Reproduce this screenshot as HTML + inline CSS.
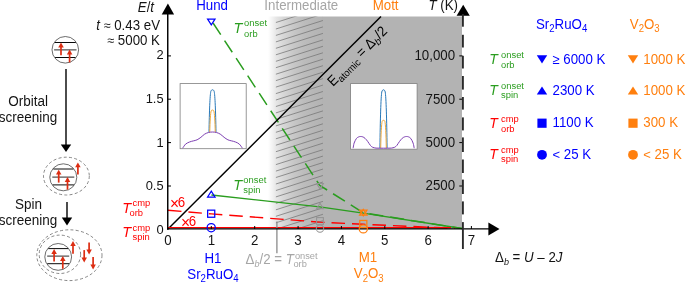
<!DOCTYPE html>
<html><head><meta charset="utf-8"><title>Figure</title>
<style>html,body{margin:0;padding:0;background:#fff;}svg{display:block;}text{font-family:"Liberation Sans",Arial,Helvetica,sans-serif;}</style>
</head><body>
<svg width="685" height="283" viewBox="0 0 685 283">
<defs><linearGradient id="gg" x1="0" y1="0" x2="1" y2="0"><stop offset="0.000" stop-color="#b3b3b3" stop-opacity="0"/><stop offset="0.052" stop-color="#b3b3b3" stop-opacity="0"/><stop offset="0.121" stop-color="#b3b3b3" stop-opacity="0.15"/><stop offset="0.190" stop-color="#b3b3b3" stop-opacity="0.32"/><stop offset="0.310" stop-color="#b3b3b3" stop-opacity="0.52"/><stop offset="0.500" stop-color="#b3b3b3" stop-opacity="0.74"/><stop offset="0.672" stop-color="#b3b3b3" stop-opacity="0.88"/><stop offset="0.862" stop-color="#b3b3b3" stop-opacity="0.96"/><stop offset="1.000" stop-color="#b3b3b3" stop-opacity="1"/></linearGradient>
<clipPath id="plotclip"><rect x="168" y="16.5" width="294.5" height="212.5"/></clipPath>
</defs>
<rect width="685" height="283" fill="#fff"/>
<rect x="265" y="16.5" width="58" height="212.5" fill="url(#gg)"/>
<rect x="322.9" y="16.5" width="139.1" height="212.5" fill="#b3b3b3"/>
<g stroke="#747474" stroke-width="0.75" clip-path="url(#plotclip)">
<line x1="275.9" y1="22.5" x2="322.9" y2="7.6"/>
<line x1="275.9" y1="29.0" x2="322.9" y2="14.0"/>
<line x1="275.9" y1="35.4" x2="322.9" y2="20.5"/>
<line x1="275.9" y1="41.9" x2="322.9" y2="26.9"/>
<line x1="275.9" y1="48.3" x2="322.9" y2="33.4"/>
<line x1="275.9" y1="54.8" x2="322.9" y2="39.9"/>
<line x1="275.9" y1="61.3" x2="322.9" y2="46.3"/>
<line x1="275.9" y1="67.7" x2="322.9" y2="52.8"/>
<line x1="275.9" y1="74.2" x2="322.9" y2="59.2"/>
<line x1="275.9" y1="80.6" x2="322.9" y2="65.7"/>
<line x1="275.9" y1="87.1" x2="322.9" y2="72.2"/>
<line x1="275.9" y1="93.6" x2="322.9" y2="78.6"/>
<line x1="275.9" y1="100.0" x2="322.9" y2="85.1"/>
<line x1="275.9" y1="106.5" x2="322.9" y2="91.5"/>
<line x1="275.9" y1="112.9" x2="322.9" y2="98.0"/>
<line x1="275.9" y1="119.4" x2="322.9" y2="104.5"/>
<line x1="275.9" y1="125.9" x2="322.9" y2="110.9"/>
<line x1="275.9" y1="132.3" x2="322.9" y2="117.4"/>
<line x1="275.9" y1="138.8" x2="322.9" y2="123.8"/>
<line x1="275.9" y1="145.2" x2="322.9" y2="130.3"/>
<line x1="275.9" y1="151.7" x2="322.9" y2="136.8"/>
<line x1="275.9" y1="158.2" x2="322.9" y2="143.2"/>
<line x1="275.9" y1="164.6" x2="322.9" y2="149.7"/>
<line x1="275.9" y1="171.1" x2="322.9" y2="156.1"/>
<line x1="275.9" y1="177.5" x2="322.9" y2="162.6"/>
<line x1="275.9" y1="184.0" x2="322.9" y2="169.1"/>
<line x1="275.9" y1="190.5" x2="322.9" y2="175.5"/>
<line x1="275.9" y1="196.9" x2="322.9" y2="182.0"/>
<line x1="275.9" y1="203.4" x2="322.9" y2="188.4"/>
<line x1="275.9" y1="209.8" x2="322.9" y2="194.9"/>
<line x1="275.9" y1="216.3" x2="322.9" y2="201.4"/>
<line x1="275.9" y1="222.8" x2="322.9" y2="207.8"/>
<line x1="275.9" y1="229.2" x2="322.9" y2="214.3"/>
<line x1="275.9" y1="235.7" x2="322.9" y2="220.7"/>
<line x1="275.9" y1="242.1" x2="322.9" y2="227.2"/>
</g>
<path d="M211.4,20.5 L319.7,185.3 L363.2,212.8 L462,228.5" fill="none" stroke="#2a9d1f" stroke-width="1.5" stroke-dasharray="14 7" stroke-dashoffset="-3" stroke-linejoin="round"/>
<path d="M211.4,195 L319.7,206.8 L363.2,213.1 L462,228.5" fill="none" stroke="#2a9d1f" stroke-width="1.3" stroke-linejoin="round"/>
<path d="M168,210.2 L211.4,213.9 L319.7,222.1 L363.2,224.3 L455,228.3" fill="none" stroke="#ff0000" stroke-width="1.4" stroke-dasharray="13.5 7" stroke-linejoin="round"/>
<line x1="168" y1="229" x2="381" y2="16.5" stroke="#000000" stroke-width="1.5"/>
<line x1="168" y1="227.65" x2="451" y2="227.65" stroke="#ff0000" stroke-width="1.15"/>
<line x1="276.9" y1="221.5" x2="276.9" y2="253.2" stroke="#8a8a8a" stroke-width="1.3"/>
<g stroke="#000000" stroke-width="1.45" fill="none">
<line x1="167.75" y1="13" x2="167.75" y2="229.65"/>
<line x1="167" y1="228.95" x2="490" y2="228.95" stroke-width="1.25"/>
<line x1="168" y1="186.0" x2="171" y2="186.0" stroke-width="1"/>
<line x1="168" y1="142.6" x2="171" y2="142.6" stroke-width="1"/>
<line x1="168" y1="99.2" x2="171" y2="99.2" stroke-width="1"/>
<line x1="168" y1="55.9" x2="171" y2="55.9" stroke-width="1"/>
<line x1="211.3" y1="229" x2="211.3" y2="226" stroke-width="1"/>
<line x1="254.7" y1="229" x2="254.7" y2="226" stroke-width="1"/>
<line x1="298.1" y1="229" x2="298.1" y2="226" stroke-width="1"/>
<line x1="341.4" y1="229" x2="341.4" y2="226" stroke-width="1"/>
<line x1="384.8" y1="229" x2="384.8" y2="226" stroke-width="1"/>
<line x1="428.1" y1="229" x2="428.1" y2="226" stroke-width="1"/>
<line x1="471.4" y1="229" x2="471.4" y2="226" stroke-width="1"/>
<line x1="459.3" y1="186.0" x2="462.5" y2="186.0" stroke-width="1"/>
<line x1="459.3" y1="142.6" x2="462.5" y2="142.6" stroke-width="1"/>
<line x1="459.3" y1="99.2" x2="462.5" y2="99.2" stroke-width="1"/>
<line x1="459.3" y1="55.9" x2="462.5" y2="55.9" stroke-width="1"/>
</g>
<path d="M167.9,3.6 L174.1,14.6 L161.7,14.6 Z" fill="#000000"/>
<path d="M499.5,229 L488.4,222.6 L488.4,235.4 Z" fill="#000000"/>
<path d="M463.2,4.7 L469.8,15.8 L456.6,15.8 Z" fill="#000000"/>
<g stroke="#2a2a2a" stroke-width="1.9">
<line x1="462.9" y1="14" x2="462.9" y2="26.7"/>
<line x1="462.9" y1="34.8" x2="462.9" y2="47.5"/>
<line x1="462.9" y1="55.8" x2="462.9" y2="68.5"/>
<line x1="462.9" y1="76" x2="462.9" y2="89.6"/>
<line x1="462.9" y1="97" x2="462.9" y2="109.6"/>
<line x1="462.9" y1="117.4" x2="462.9" y2="130.4"/>
<line x1="462.9" y1="137.4" x2="462.9" y2="152"/>
<line x1="462.9" y1="159.5" x2="462.9" y2="173"/>
<line x1="462.9" y1="179.6" x2="462.9" y2="194"/>
<line x1="462.9" y1="201.4" x2="462.9" y2="214.4"/>
<line x1="462.9" y1="222.1" x2="462.9" y2="249"/>
</g>
<rect x="180.1" y="83.6" width="66.1" height="65.1" fill="#fff" stroke="#7f7f7f" stroke-width="0.8"/>
<g fill="none" stroke-width="1" stroke-linejoin="round">
<path d="M209.00,132.2 C209.35,110.9 209.98,95.2 210.82,91.4 C211.45,89.2 213.55,89.2 214.18,91.4 C215.02,95.2 215.65,110.9 216.00,132.2" stroke="#2878b8"/>
<path d="M209.75,132.2 C210.03,121.1 210.52,112.9 211.18,110.9 C211.68,109.7 213.32,109.7 213.82,110.9 C214.48,112.9 214.97,121.1 215.25,132.2" stroke="#f0a93a"/>
<path d="M182.6,148.2 C183.1,147.5 184.5,145.2 185.6,144.1 C186.8,143.1 188.2,142.5 189.5,142.0 C190.7,141.4 192.0,141.3 193.3,140.9 C194.5,140.6 195.8,140.4 197.1,139.8 C198.4,139.2 199.6,138.2 200.9,137.3 C202.2,136.3 203.4,134.9 204.7,134.1 C206.0,133.3 207.2,132.9 208.5,132.5 C209.8,132.2 211.2,132.0 212.5,132.0 C213.8,132.0 215.1,132.2 216.4,132.5 C217.7,132.9 219.0,133.3 220.2,134.1 C221.5,134.9 222.8,136.3 224.1,137.3 C225.3,138.2 226.6,139.2 227.9,139.8 C229.1,140.4 230.4,140.6 231.7,140.9 C233.0,141.3 234.2,141.4 235.5,142.0 C236.8,142.5 238.2,143.1 239.3,144.1 C240.5,145.2 241.9,147.5 242.4,148.2" stroke="#7d3fb2" stroke-width="1"/>
</g>
<rect x="350.6" y="83.6" width="66.5" height="65.6" fill="#fff" stroke="#7f7f7f" stroke-width="0.8"/>
<g fill="none" stroke-width="1" stroke-linejoin="round">
<path d="M379.90,148.2 C380.26,118.9 380.91,97.3 381.77,92.0 C382.42,89.0 384.58,89.0 385.23,92.0 C386.09,97.3 386.74,118.9 387.10,148.2" stroke="#2878b8"/>
<path d="M380.70,148.2 C380.98,134.2 381.48,123.8 382.16,121.3 C382.66,119.9 384.34,119.9 384.84,121.3 C385.52,123.8 386.02,134.2 386.30,148.2" stroke="#f0a93a"/>
<path d="M353.1,148.2 C353.3,147.3 353.6,144.7 354.1,143.1 C354.7,141.5 355.6,139.6 356.4,138.5 C357.2,137.5 358.0,137.2 358.7,136.9 C359.4,136.5 360.0,136.5 360.7,136.5 C361.4,136.5 362.0,136.6 362.8,136.9 C363.5,137.2 364.2,137.5 365.0,138.3 C365.9,139.1 367.0,140.4 367.8,141.6 C368.7,142.8 369.6,144.4 370.4,145.4 C371.2,146.3 371.7,146.9 372.7,147.3 C373.6,147.7 374.8,147.9 376.0,148.1 C377.2,148.2 378.5,148.2 379.8,148.2 C381.1,148.2 382.4,148.2 383.6,148.2 C384.9,148.2 386.2,148.2 387.4,148.2 C388.7,148.2 390.1,148.2 391.3,148.1 C392.4,147.9 393.6,147.7 394.6,147.3 C395.5,146.9 396.0,146.3 396.9,145.4 C397.7,144.4 398.5,142.8 399.4,141.6 C400.3,140.4 401.4,139.1 402.2,138.3 C403.0,137.5 403.8,137.2 404.5,136.9 C405.2,136.6 405.8,136.5 406.5,136.5 C407.2,136.5 407.8,136.5 408.6,136.9 C409.3,137.2 410.1,137.5 410.8,138.5 C411.6,139.6 412.6,141.5 413.1,143.1 C413.7,144.7 414.0,147.3 414.2,148.2" stroke="#7d3fb2" stroke-width="1"/>
</g>
<g fill="none" stroke="#949494" stroke-width="1.05">
<path d="M316.6,183.5 L323.4,183.5 L320.0,188.9 Z"/>
<path d="M316.6,208.7 L323.4,208.7 L320.0,203.3 Z"/>
<rect x="316.6" y="217.6" width="6.8" height="6.8"/>
<circle cx="320" cy="228.6" r="3.7"/>
</g>
<g fill="none" stroke="#0000ff" stroke-width="1.25">
<path d="M207.6,19.0 L215.0,19.0 L211.3,24.8 Z"/>
<path d="M207.6,197.0 L215.0,197.0 L211.3,191.2 Z"/>
<rect x="207.65" y="210.15" width="7.1" height="7.1"/>
<circle cx="211.2" cy="227.7" r="4.1"/>
</g>
<g fill="none" stroke="#ff7f0e" stroke-width="1.25">
<path d="M359.6,210.0 L367.0,210.0 L363.3,215.8 Z"/>
<path d="M359.6,215.1 L367.0,215.1 L363.3,209.3 Z"/>
<rect x="359.75" y="220.45" width="7.1" height="7.1"/>
<circle cx="363.3" cy="228.9" r="4.1"/>
</g>
<text transform="translate(212.1 9.9) scale(1 1.05)" font-size="13.3" fill="#0000ff" text-anchor="middle" >Hund</text>
<text transform="translate(301.3 9.9) scale(1 1.05)" font-size="13.3" fill="#a6a6a6" text-anchor="middle" >Intermediate</text>
<text transform="translate(385.6 9.9) scale(1 1.05)" font-size="13.3" fill="#ff7f0e" text-anchor="middle" >Mott</text>
<text transform="translate(428.4 9.9) scale(1 1.05)" font-size="13.3" fill="#141414" text-anchor="start" ><tspan font-style="italic">T</tspan> (K)</text>
<text transform="translate(137.8 11.5) scale(1 1.05)" font-size="13.3" fill="#141414" text-anchor="start" ><tspan font-style="italic">E</tspan>/<tspan font-style="italic">t</tspan></text>
<text transform="translate(160 30.2) scale(1 1.05)" font-size="13.3" fill="#141414" text-anchor="end" ><tspan font-style="italic">t</tspan> <tspan font-size="12.5">≈</tspan> 0.43 eV</text>
<text transform="translate(160 44.8) scale(1 1.05)" font-size="13.3" fill="#141414" text-anchor="end" ><tspan font-size="12.5">≈</tspan> 5000 K</text>
<text transform="translate(163.6 234.45000000000002) scale(1 1.02)" font-size="12.9" fill="#141414" text-anchor="end" >0</text>
<text transform="translate(163.6 190.45) scale(1 1.02)" font-size="12.9" fill="#141414" text-anchor="end" >0.5</text>
<text transform="translate(163.6 146.75) scale(1 1.02)" font-size="12.9" fill="#141414" text-anchor="end" >1</text>
<text transform="translate(163.6 102.64999999999998) scale(1 1.02)" font-size="12.9" fill="#141414" text-anchor="end" >1.5</text>
<text transform="translate(163.6 59.349999999999994) scale(1 1.02)" font-size="12.9" fill="#141414" text-anchor="end" >2</text>
<text transform="translate(168.0 244.5) scale(1 1.05)" font-size="13.3" fill="#141414" text-anchor="middle" >0</text>
<text transform="translate(211.35 244.5) scale(1 1.05)" font-size="13.3" fill="#141414" text-anchor="middle" >1</text>
<text transform="translate(254.7 244.5) scale(1 1.05)" font-size="13.3" fill="#141414" text-anchor="middle" >2</text>
<text transform="translate(298.05 244.5) scale(1 1.05)" font-size="13.3" fill="#141414" text-anchor="middle" >3</text>
<text transform="translate(341.4 244.5) scale(1 1.05)" font-size="13.3" fill="#141414" text-anchor="middle" >4</text>
<text transform="translate(384.75 244.5) scale(1 1.05)" font-size="13.3" fill="#141414" text-anchor="middle" >5</text>
<text transform="translate(428.1 244.5) scale(1 1.05)" font-size="13.3" fill="#141414" text-anchor="middle" >6</text>
<text transform="translate(471.45 244.5) scale(1 1.05)" font-size="13.3" fill="#141414" text-anchor="middle" >7</text>
<text transform="translate(455.1 190.25000000000003) scale(1 1.05)" font-size="13.3" fill="#141414" text-anchor="end" >2500</text>
<text transform="translate(455.1 146.90000000000003) scale(1 1.05)" font-size="13.3" fill="#141414" text-anchor="end" >5000</text>
<text transform="translate(455.1 103.55) scale(1 1.05)" font-size="13.3" fill="#141414" text-anchor="end" >7500</text>
<text transform="translate(455.1 60.2) scale(1 1.05)" font-size="13.3" fill="#141414" text-anchor="end" >10,000</text>
<text transform="translate(495 261.5) scale(1 1.05)" font-size="13.3" fill="#141414" text-anchor="start" >Δ<tspan font-size="9" font-style="italic" dy="3">b</tspan><tspan dy="-3"> = </tspan><tspan font-style="italic">U</tspan> – 2<tspan font-style="italic">J</tspan></text>
<text transform="translate(213 262.5) scale(1 1.05)" font-size="13.3" fill="#0000ff" text-anchor="middle" >H1</text>
<text transform="translate(187.3 278.6) scale(1 1.05)" font-size="13.3" fill="#0000ff" text-anchor="start" ><tspan>Sr</tspan><tspan font-size="9.6" dy="3.6">2</tspan><tspan dy="-3.6">RuO</tspan><tspan font-size="9.6" dy="3.6">4</tspan></text>
<text transform="translate(368 262.3) scale(1 1.05)" font-size="13.3" fill="#ff7f0e" text-anchor="middle" >M1</text>
<text transform="translate(353.8 278.4) scale(1 1.05)" font-size="13.3" fill="#ff7f0e" text-anchor="start" ><tspan>V</tspan><tspan font-size="9.6" dy="3.6">2</tspan><tspan dy="-3.6">O</tspan><tspan font-size="9.6" dy="3.6">3</tspan></text>
<text transform="translate(536 28.6) scale(1 1.05)" font-size="13.3" fill="#0000ff" text-anchor="start" ><tspan>Sr</tspan><tspan font-size="9.6" dy="3.6">2</tspan><tspan dy="-3.6">RuO</tspan><tspan font-size="9.6" dy="3.6">4</tspan></text>
<text transform="translate(629.8 28.6) scale(1 1.05)" font-size="13.3" fill="#ff7f0e" text-anchor="start" ><tspan>V</tspan><tspan font-size="9.6" dy="3.6">2</tspan><tspan dy="-3.6">O</tspan><tspan font-size="9.6" dy="3.6">3</tspan></text>
<text transform="translate(245.6 264.0) scale(1 1.05)" font-size="13.3" fill="#a6a6a6" text-anchor="start" >Δ<tspan font-size="9" font-style="italic" dy="3">b</tspan><tspan dy="-3">/2 = </tspan><tspan font-style="italic">T</tspan></text>
<text transform="translate(294.9 258.9) scale(1 1.05)" font-size="9.3" fill="#a6a6a6" text-anchor="start" >onset</text>
<text transform="translate(293.4 267.4) scale(1 1.05)" font-size="9.3" fill="#a6a6a6" text-anchor="start" >orb</text>
<text transform="translate(233.5 32.7) scale(1 1.05)" font-size="14.5" fill="#2a9d1f" text-anchor="start" ><tspan font-style="italic">T</tspan></text>
<text transform="translate(244.1 25.800000000000004) scale(1 1.05)" font-size="9.4" fill="#2a9d1f" text-anchor="start" >onset</text>
<text transform="translate(244.1 36.6) scale(1 1.05)" font-size="9.4" fill="#2a9d1f" text-anchor="start" >orb</text>
<text transform="translate(233.2 190.4) scale(1 1.05)" font-size="14.5" fill="#2a9d1f" text-anchor="start" ><tspan font-style="italic">T</tspan></text>
<text transform="translate(243.29999999999998 183.1) scale(1 1.05)" font-size="9.4" fill="#2a9d1f" text-anchor="start" >onset</text>
<text transform="translate(243.29999999999998 192.8) scale(1 1.05)" font-size="9.4" fill="#2a9d1f" text-anchor="start" >spin</text>
<text transform="translate(122.3 212.7) scale(1 1.05)" font-size="14.5" fill="#ff0000" text-anchor="start" ><tspan font-style="italic">T</tspan></text>
<text transform="translate(132.6 206.1) scale(1 1.05)" font-size="9.4" fill="#ff0000" text-anchor="start" >cmp</text>
<text transform="translate(129.5 216.2) scale(1 1.05)" font-size="9.4" fill="#ff0000" text-anchor="start" >orb</text>
<text transform="translate(122.3 236.7) scale(1 1.05)" font-size="14.5" fill="#ff0000" text-anchor="start" ><tspan font-style="italic">T</tspan></text>
<text transform="translate(132.6 230.5) scale(1 1.05)" font-size="9.4" fill="#ff0000" text-anchor="start" >cmp</text>
<text transform="translate(132.6 239.7) scale(1 1.05)" font-size="9.4" fill="#ff0000" text-anchor="start" >spin</text>
<text transform="translate(489.3 63.9) scale(1 1.05)" font-size="14" fill="#2a9d1f" text-anchor="start" ><tspan font-style="italic">T</tspan></text>
<text transform="translate(501.0 58.0) scale(1 1.05)" font-size="9.4" fill="#2a9d1f" text-anchor="start" >onset</text>
<text transform="translate(501.0 67.6) scale(1 1.05)" font-size="9.4" fill="#2a9d1f" text-anchor="start" >orb</text>
<text transform="translate(489.3 94.6) scale(1 1.05)" font-size="14" fill="#2a9d1f" text-anchor="start" ><tspan font-style="italic">T</tspan></text>
<text transform="translate(501.0 88.6) scale(1 1.05)" font-size="9.4" fill="#2a9d1f" text-anchor="start" >onset</text>
<text transform="translate(501.0 97.8) scale(1 1.05)" font-size="9.4" fill="#2a9d1f" text-anchor="start" >spin</text>
<text transform="translate(489.3 127.7) scale(1 1.05)" font-size="14" fill="#ff0000" text-anchor="start" ><tspan font-style="italic">T</tspan></text>
<text transform="translate(501.0 121.7) scale(1 1.05)" font-size="9.4" fill="#ff0000" text-anchor="start" >cmp</text>
<text transform="translate(501.0 131.6) scale(1 1.05)" font-size="9.4" fill="#ff0000" text-anchor="start" >orb</text>
<text transform="translate(489.3 158.7) scale(1 1.05)" font-size="14" fill="#ff0000" text-anchor="start" ><tspan font-style="italic">T</tspan></text>
<text transform="translate(501.0 153.0) scale(1 1.05)" font-size="9.4" fill="#ff0000" text-anchor="start" >cmp</text>
<text transform="translate(501.0 162.0) scale(1 1.05)" font-size="9.4" fill="#ff0000" text-anchor="start" >spin</text>
<text transform="translate(169.9 207.3) scale(1 1.05)" font-size="13.3" fill="#ff0000" text-anchor="start" ><tspan font-size="15.5" dy="1.9">×</tspan><tspan dy="-1.9" dx="-1.3">6</tspan></text>
<text transform="translate(180.9 225.6) scale(1 1.05)" font-size="13.3" fill="#ff0000" text-anchor="start" ><tspan font-size="15.5" dy="1.9">×</tspan><tspan dy="-1.9" dx="-1.3">6</tspan></text>
<path d="M536.8,55.3 L547.2,55.3 L542,63.4 Z" fill="#0000ff"/>
<path d="M536.8,94.4 L547.2,94.4 L542,86.6 Z" fill="#0000ff"/>
<rect x="537.4" y="118.6" width="9.2" height="9.2" fill="#0000ff"/>
<circle cx="542" cy="154.8" r="4.9" fill="#0000ff"/>
<text transform="translate(552.5 64) scale(1 1.05)" font-size="13.3" fill="#0000ff" text-anchor="start" ><tspan font-size="13">≥</tspan> 6000 K</text>
<text transform="translate(552.5 94.8) scale(1 1.05)" font-size="13.3" fill="#0000ff" text-anchor="start" >2300 K</text>
<text transform="translate(552.5 127) scale(1 1.05)" font-size="13.3" fill="#0000ff" text-anchor="start" >1100 K</text>
<text transform="translate(552.5 158.5) scale(1 1.05)" font-size="13.3" fill="#0000ff" text-anchor="start" ><tspan font-size="13">&lt;</tspan> 25 K</text>
<path d="M627.8,55.3 L638.2,55.3 L633,63.4 Z" fill="#ff7f0e"/>
<path d="M627.8,94.4 L638.2,94.4 L633,86.6 Z" fill="#ff7f0e"/>
<rect x="628.4" y="118.6" width="9.2" height="9.2" fill="#ff7f0e"/>
<circle cx="633" cy="154.8" r="4.9" fill="#ff7f0e"/>
<text transform="translate(643.3 64) scale(1 1.05)" font-size="13.3" fill="#ff7f0e" text-anchor="start" >1000 K</text>
<text transform="translate(643.3 94.8) scale(1 1.05)" font-size="13.3" fill="#ff7f0e" text-anchor="start" >1000 K</text>
<text transform="translate(643.3 127) scale(1 1.05)" font-size="13.3" fill="#ff7f0e" text-anchor="start" >300 K</text>
<text transform="translate(643.3 158.5) scale(1 1.05)" font-size="13.3" fill="#ff7f0e" text-anchor="start" ><tspan font-size="13">&lt;</tspan> 25 K</text>
<text transform="translate(332.9,86.9) rotate(-44.9) scale(1 1.05)" font-size="13.5" fill="#000000">E<tspan font-size="9.5" dy="3">atomic</tspan><tspan dy="-3"> = Δ</tspan><tspan font-size="9.5" font-style="italic" dy="3">b</tspan><tspan dy="-3">/2</tspan></text>
<text transform="translate(28.2 106.4) scale(1 1.05)" font-size="13.5" fill="#141414" text-anchor="middle" >Orbital</text>
<text transform="translate(28 122.0) scale(1 1.05)" font-size="13.5" fill="#141414" text-anchor="middle" >screening</text>
<text transform="translate(28.4 208.7) scale(1 1.05)" font-size="13.5" fill="#141414" text-anchor="middle" >Spin</text>
<text transform="translate(28 224.6) scale(1 1.05)" font-size="13.5" fill="#141414" text-anchor="middle" >screening</text>
<line x1="66" y1="69" x2="66" y2="146" stroke="#000000" stroke-width="1.4"/>
<path d="M66,152 L60.8,144.4 L71.2,144.4 Z" fill="#000000"/>
<line x1="67" y1="202" x2="67" y2="219" stroke="#000000" stroke-width="1.4"/>
<path d="M67,225.5 L61.8,217.6 L72.2,217.6 Z" fill="#000000"/>
<circle cx="65.3" cy="49.8" r="13.3" fill="#fff" stroke="#3c3c3c" stroke-width="0.75"/>
<line x1="54.8" y1="42.5" x2="75.8" y2="42.5" stroke="#0a0a0a" stroke-width="1"/>
<line x1="54.1" y1="49.9" x2="76.5" y2="49.9" stroke="#2a2a2a" stroke-width="1"/>
<line x1="55.1" y1="57.5" x2="75.5" y2="57.5" stroke="#0a0a0a" stroke-width="1"/>
<line x1="61.0" y1="55.2" x2="61.0" y2="46.5" stroke="#dc2d12" stroke-width="1.7"/>
<path d="M61.0,42.6 L58.25,47.5 L63.75,47.5 Z" fill="#dc2d12"/>
<line x1="69.6" y1="62.4" x2="69.6" y2="53.5" stroke="#dc2d12" stroke-width="1.7"/>
<path d="M69.6,49.6 L66.85,54.5 L72.35,54.5 Z" fill="#dc2d12"/>
<ellipse cx="66.4" cy="176.1" rx="22.9" ry="18.9" fill="none" stroke="#6a6a6a" stroke-width="0.8" stroke-dasharray="3 2.3"/>
<circle cx="63.3" cy="177.3" r="13.5" fill="#fff" stroke="#3c3c3c" stroke-width="0.75"/>
<line x1="53.3" y1="169.0" x2="73.3" y2="169.0" stroke="#0a0a0a" stroke-width="1"/>
<line x1="52.3" y1="177.1" x2="74.3" y2="177.1" stroke="#2a2a2a" stroke-width="1"/>
<line x1="52.7" y1="184.9" x2="73.9" y2="184.9" stroke="#0a0a0a" stroke-width="1"/>
<line x1="58.7" y1="182.6" x2="58.7" y2="173.6" stroke="#dc2d12" stroke-width="1.7"/>
<path d="M58.7,169.7 L55.95,174.6 L61.45,174.6 Z" fill="#dc2d12"/>
<line x1="67.5" y1="189.6" x2="67.5" y2="180.9" stroke="#dc2d12" stroke-width="1.7"/>
<path d="M67.5,177.0 L64.75,181.9 L70.25,181.9 Z" fill="#dc2d12"/>
<line x1="77.9" y1="174.6" x2="77.9" y2="166.3" stroke="#dc2d12" stroke-width="1.7"/>
<path d="M77.9,162.4 L75.15,167.3 L80.65,167.3 Z" fill="#dc2d12"/>
<ellipse cx="69.4" cy="255.2" rx="32.6" ry="25.4" fill="none" stroke="#6a6a6a" stroke-width="0.8" stroke-dasharray="3 2.3"/>
<ellipse cx="59.9" cy="254.3" rx="20.7" ry="19.2" fill="none" stroke="#6a6a6a" stroke-width="0.8" stroke-dasharray="3 2.3"/>
<circle cx="58.2" cy="256.9" r="13.4" fill="#fff" stroke="#3c3c3c" stroke-width="0.75"/>
<line x1="48.3" y1="248.6" x2="68.1" y2="248.6" stroke="#0a0a0a" stroke-width="1"/>
<line x1="47.2" y1="256.1" x2="69.2" y2="256.1" stroke="#2a2a2a" stroke-width="1"/>
<line x1="47.3" y1="263.7" x2="69.1" y2="263.7" stroke="#0a0a0a" stroke-width="1"/>
<line x1="54.1" y1="261.4" x2="54.1" y2="253.0" stroke="#dc2d12" stroke-width="1.7"/>
<path d="M54.1,249.1 L51.35,254.0 L56.85,254.0 Z" fill="#dc2d12"/>
<line x1="62.8" y1="268.8" x2="62.8" y2="260.0" stroke="#dc2d12" stroke-width="1.7"/>
<path d="M62.8,256.1 L60.05,261.0 L65.55,261.0 Z" fill="#dc2d12"/>
<line x1="73.0" y1="253.7" x2="73.0" y2="244.9" stroke="#dc2d12" stroke-width="1.7"/>
<path d="M73.0,241.0 L70.25,245.9 L75.75,245.9 Z" fill="#dc2d12"/>
<line x1="84.2" y1="250.1" x2="84.2" y2="258.5" stroke="#dc2d12" stroke-width="1.7"/>
<path d="M84.2,262.4 L81.45,257.5 L86.95,257.5 Z" fill="#dc2d12"/>
<line x1="89.1" y1="242.4" x2="89.1" y2="250.5" stroke="#dc2d12" stroke-width="1.7"/>
<path d="M89.1,254.4 L86.35,249.5 L91.85,249.5 Z" fill="#dc2d12"/>
<line x1="93.1" y1="257.1" x2="93.1" y2="265.5" stroke="#dc2d12" stroke-width="1.7"/>
<path d="M93.1,269.4 L90.35,264.5 L95.85,264.5 Z" fill="#dc2d12"/>
</svg></body></html>
